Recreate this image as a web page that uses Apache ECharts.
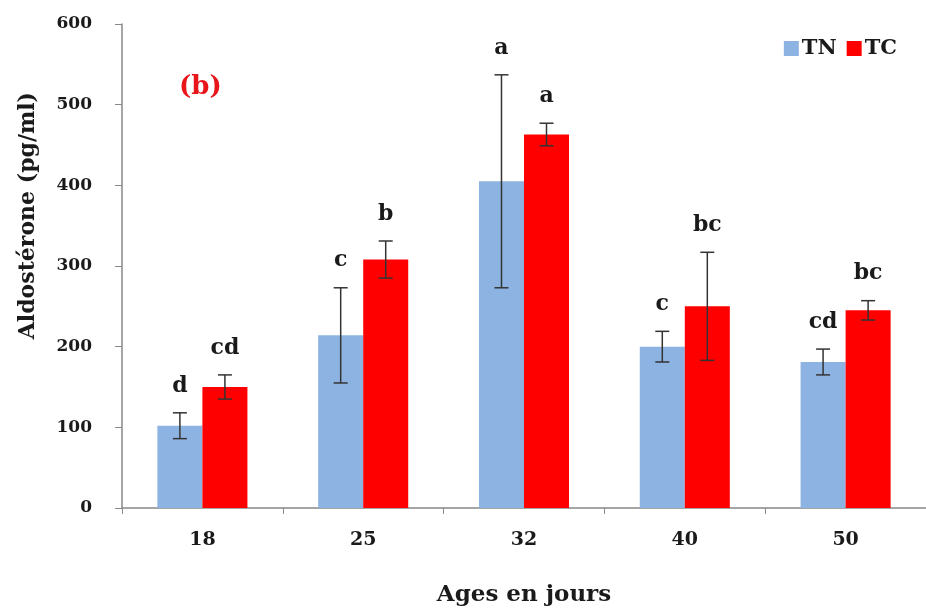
<!DOCTYPE html>
<html>
<head>
<meta charset="utf-8">
<script src="https://cdn.jsdelivr.net/npm/echarts@6/dist/echarts.min.js"></script>
<style>
  html, body { margin: 0; padding: 0; background: #fff; }
  #chart { width: 926px; height: 612px; }
</style>
</head>
<body>
<div id="chart"></div>
<script>
// données
const ages = ['18', '25', '32', '40', '50']
const tnValues = [102, 214, 405, 200, 181]
const tnErrors = [16, 59, 132, 19, 16]
const tcValues = [150, 308, 463, 250, 245]
const tcErrors = [15, 23, 14, 67, 12]
const tnLetters = ['d', 'c', 'a', 'c', 'cd']
const tcLetters = ['cd', 'b', 'a', 'bc', 'bc']
const yTicks = [0, 100, 200, 300, 400, 500, 600]

const serif = 'DejaVu Serif'
const BAR_FRAC = 0.28

const chart = echarts.init(document.getElementById('chart'))

// barre d'erreur + lettre de significativité
const makeErr = (values, errors, letters, side) => ({
  type: 'custom',
  z: 5,
  silent: true,
  data: values.map((v, i) => [i, v - errors[i], v + errors[i], letters[i]]),
  renderItem: function (params, api) {
    const band = api.size([1, 0])[0]
    const cx = api.coord([api.value(0), 0])[0] + side * band * BAR_FRAC / 2
    const yLow = api.coord([api.value(0), api.value(1)])[1]
    const yHigh = api.coord([api.value(0), api.value(2)])[1]
    const cap = 7
    const style = { stroke: '#333', lineWidth: 1.5 }
    return {
      type: 'group',
      children: [
        { type: 'line', shape: { x1: cx, y1: yLow, x2: cx, y2: yHigh }, style },
        { type: 'line', shape: { x1: cx - cap, y1: yLow, x2: cx + cap, y2: yLow }, style },
        { type: 'line', shape: { x1: cx - cap, y1: yHigh, x2: cx + cap, y2: yHigh }, style },
        {
          type: 'text',
          x: cx,
          y: yHigh - 16,
          style: {
            text: api.value(3),
            fill: '#1a1a1a',
            font: 'bold 22px "' + serif + '"',
            textAlign: 'center',
            textVerticalAlign: 'bottom'
          }
        }
      ]
    }
  }
})

const options = {
  animation: false,
  textStyle: { fontFamily: serif },
  grid: { left: 122, right: -10, top: 24, bottom: 92, containLabel: false },
  legend: {
    data: ['TN', 'TC'],
    right: 24,
    top: 33,
    icon: 'rect',
    itemWidth: 15,
    itemHeight: 15,
    itemGap: 10,
    itemStyle: { borderWidth: 0 },
    textStyle: { fontFamily: serif, fontWeight: 'bold', fontSize: 21, color: '#1a1a1a', padding: [0, 0, 0, -2] }
  },
  xAxis: {
    type: 'category',
    data: ages,
    name: 'Ages en jours',
    nameLocation: 'middle',
    nameGap: 76,
    nameTextStyle: { fontFamily: serif, fontWeight: 'bold', fontSize: 23, color: '#1a1a1a' },
    axisLine: { lineStyle: { color: '#888', width: 1.5 } },
    axisTick: { show: true, length: 6, lineStyle: { color: '#888' } },
    axisLabel: { margin: 23, fontFamily: serif, fontWeight: 'bold', fontSize: 19, color: '#1a1a1a' }
  },
  yAxis: {
    type: 'value',
    min: yTicks[0],
    max: yTicks[yTicks.length - 1],
    interval: 100,
    splitLine: { show: false },
    axisLine: { show: true, lineStyle: { color: '#888', width: 1.5 } },
    axisTick: { show: true, length: 7, lineStyle: { color: '#888' } },
    axisLabel: { margin: 30, fontFamily: serif, fontWeight: 'bold', fontSize: 17, color: '#1a1a1a' }
  },
  graphic: [
    {
      type: 'text',
      left: 17,
      top: 92,
      rotation: Math.PI / 2,
      style: {
        text: 'Aldostérone (pg/ml)',
        font: 'bold 22px "' + serif + '"',
        fill: '#1a1a1a'
      }
    },
    {
      type: 'text',
      left: 179,
      top: 74,
      style: { text: '(b)', font: 'bold 26px "' + serif + '"', fill: '#e8151b' }
    }
  ],
  series: [
    {
      name: 'TN',
      type: 'bar',
      barWidth: (BAR_FRAC * 100) + '%',
      barGap: '0%',
      itemStyle: { color: '#8db3e2' },
      data: tnValues
    },
    {
      name: 'TC',
      type: 'bar',
      barWidth: (BAR_FRAC * 100) + '%',
      barGap: '0%',
      itemStyle: { color: '#ff0000' },
      data: tcValues
    },
    makeErr(tnValues, tnErrors, tnLetters, -1),
    makeErr(tcValues, tcErrors, tcLetters, 1)
  ]
}

chart.setOption(options)
</script>
</body>
</html>
